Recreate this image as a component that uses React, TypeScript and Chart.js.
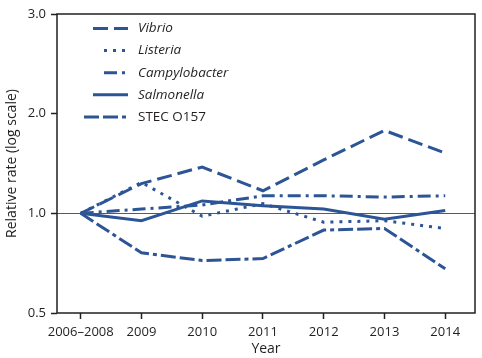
import { useEffect, useRef } from "react";
import { Chart, registerables } from "chart.js";

Chart.register(...registerables);

const years = ["2006–2008", "2009", "2010", "2011", "2012", "2013", "2014"];
const vibrio = [1, 1.23, 1.38, 1.17, 1.45, 1.78, 1.52];
const listeria = [1, 1.24, 0.98, 1.07, 0.94, 0.95, 0.9];
const campylobacter = [1, 1.03, 1.06, 1.13, 1.13, 1.12, 1.13];
const salmonella = [1, 0.95, 1.09, 1.055, 1.03, 0.96, 1.02];
const stec = [1, 0.76, 0.72, 0.73, 0.89, 0.9, 0.68];
const yTickValues = [0.5, 1, 2, 4];
const yTickLabels = ["0.5", "1.0", "2.0", "3.0"];
const seriesNames = ["Vibrio", "Listeria", "Campylobacter", "Salmonella", "STEC O157"];
const seriesItalic = [true, true, true, true, false];

const COLOR = "#2c5596";
const INK = "#231f20";
const FONT = "'Open Sans', 'Noto Sans', sans-serif";

const dashes = [[15, 6], [3, 6], [13, 5, 3, 5], [], [15, 4, 15, 4, 4, 4]];
const legendSampleLen = [35, 24, 24, 35, 44];

const overlayPlugin = {
  id: "overlay",
  beforeDatasetsDraw(chart: any) {
    const { ctx, chartArea, scales } = chart;
    const y1 = Math.round(scales.y.getPixelForValue(1)) + 0.5;
    ctx.save();
    ctx.strokeStyle = "#5a5a5a";
    ctx.lineWidth = 1;
    ctx.beginPath();
    ctx.moveTo(chartArea.left, y1);
    ctx.lineTo(chartArea.right, y1);
    ctx.stroke();
    ctx.restore();
  },
  afterDatasetsDraw(chart: any) {
    const { ctx, chartArea } = chart;
    const { left, right, top, bottom } = chartArea;
    ctx.save();
    const endX = 128;
    const textX = 138;
    const startY = 28.5;
    const step = 22.1;
    chart.data.datasets.forEach((ds: any, i: number) => {
      const y = startY + i * step;
      ctx.strokeStyle = ds.borderColor;
      ctx.lineWidth = ds.borderWidth;
      ctx.setLineDash(ds.borderDash || []);
      ctx.lineCap = "butt";
      ctx.beginPath();
      ctx.moveTo(endX - legendSampleLen[i], y);
      ctx.lineTo(endX, y);
      ctx.stroke();
      ctx.setLineDash([]);
      ctx.fillStyle = INK;
      ctx.font = `${seriesItalic[i] ? "italic " : ""}13.5px ${FONT}`;
      ctx.textBaseline = "middle";
      ctx.textAlign = "left";
      ctx.fillText(ds.label, textX, y);
    });
    ctx.strokeStyle = INK;
    ctx.lineWidth = 1.5;
    ctx.strokeRect(left, top, right - left, bottom - top);
    ctx.restore();
  },
};

export default function App() {
  const ref = useRef<HTMLCanvasElement | null>(null);

  useEffect(() => {
    if (!ref.current) return;
    const series = [vibrio, listeria, campylobacter, salmonella, stec];
    const chart = new Chart(ref.current, {
      type: "line",
      data: {
        datasets: series.map((vals, i) => ({
          label: seriesNames[i],
          data: vals.map((v, j) => ({ x: j, y: v })),
          borderColor: COLOR,
          backgroundColor: COLOR,
          borderWidth: 3,
          borderDash: dashes[i],
          pointRadius: 0,
          tension: 0,
          fill: false,
          borderJoinStyle: "miter",
        })),
      },
      options: {
        animation: false,
        responsive: false,
        events: [],
        layout: { padding: { top: 14, right: 7, left: 0, bottom: 0 } },
        plugins: {
          legend: { display: false },
          tooltip: { enabled: false },
        },
        scales: {
          x: {
            type: "linear",
            min: -0.39,
            max: 6.49,
            afterBuildTicks: (scale: any) => {
              scale.ticks = years.map((_, i) => ({ value: i }));
            },
            afterFit: (scale: any) => {
              scale.height = 45;
            },
            grid: {
              display: true,
              drawOnChartArea: false,
              drawTicks: true,
              tickLength: 6,
              tickColor: INK,
              tickWidth: 1.5,
            },
            border: { display: false },
            ticks: {
              autoSkip: false,
              maxRotation: 0,
              padding: 5,
              color: INK,
              font: { family: FONT, size: 13 },
              callback: (v: any) => years[v] ?? "",
            },
            title: {
              display: true,
              text: "Year",
              color: INK,
              font: { family: FONT, size: 14 },
              padding: { top: 0, bottom: 1 },
            },
          },
          y: {
            type: "logarithmic",
            min: 0.5,
            max: 4,
            afterBuildTicks: (scale: any) => {
              scale.ticks = yTickValues.map((v) => ({ value: v }));
            },
            afterFit: (scale: any) => {
              scale.width = 57;
            },
            grid: {
              display: true,
              drawOnChartArea: false,
              drawTicks: true,
              tickLength: 6,
              tickColor: INK,
              tickWidth: 1.5,
            },
            border: { display: false },
            ticks: {
              padding: 5,
              color: INK,
              font: { family: FONT, size: 13 },
              callback: (v: any) => {
                const k = yTickValues.indexOf(Number(v));
                return k >= 0 ? yTickLabels[k] : "";
              },
            },
            title: {
              display: true,
              text: "Relative rate (log scale)",
              color: INK,
              font: { family: FONT, size: 14 },
              padding: { top: 4, bottom: 0 },
            },
          },
        },
      },
      plugins: [overlayPlugin],
    } as any);
    return () => chart.destroy();
  }, []);

  return (
    <div style={{ position: "absolute", left: 0, top: 0, width: 482, height: 358, background: "#fff" }}>
      <canvas ref={ref} width={482} height={358} style={{ display: "block" }} />
    </div>
  );
}
